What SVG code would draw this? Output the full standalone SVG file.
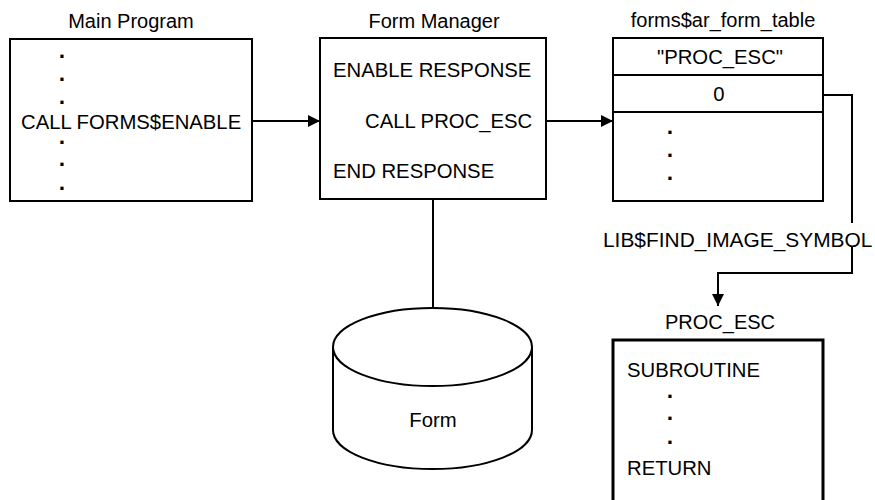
<svg xmlns="http://www.w3.org/2000/svg" width="875" height="500" viewBox="0 0 875 500">
<style>
text{font-family:"Liberation Sans",Arial,sans-serif;font-size:20.3px;fill:#000}
.t{font-size:20px}
.c{text-anchor:middle}
.d{font-size:12px;text-anchor:middle;stroke:#000;stroke-width:2}
.box{fill:#fff;stroke:#000;stroke-width:2}
.ln{fill:none;stroke:#000;stroke-width:2}
</style>
<defs>
<marker id="ah" viewBox="0 0 10 10" refX="10" refY="5" markerWidth="6" markerHeight="6" orient="auto" markerUnits="strokeWidth">
<path d="M0,0 L10,5 L0,10 z" fill="#000"/>
</marker>
</defs>
<g id="main">
<text class="c t" x="131" y="28">Main Program</text>
<rect class="box" x="10" y="39" width="242" height="162"/>
<text class="d" x="62" y="56.6">.</text>
<text class="d" x="62" y="79.6">.</text>
<text class="d" x="62" y="102.6">.</text>
<text x="21" y="129">CALL FORMS$ENABLE</text>
<text class="d" x="62" y="142.6">.</text>
<text class="d" x="62" y="164.6">.</text>
<text class="d" x="62" y="188.6">.</text>
</g>
<g id="formmanager">
<text class="c t" x="434" y="28">Form Manager</text>
<rect class="box" x="320" y="38" width="226" height="161"/>
<text x="333" y="77">ENABLE RESPONSE</text>
<text x="365" y="128">CALL PROC_ESC</text>
<text x="333" y="178">END RESPONSE</text>
</g>
<g id="table">
<text class="c t" x="723" y="27">forms$ar_form_table</text>
<rect class="box" x="613" y="38" width="210" height="163"/>
<line class="ln" x1="613" y1="75" x2="823" y2="75"/>
<line class="ln" x1="613" y1="112" x2="823" y2="112"/>
<text class="c" x="720" y="64">"PROC_ESC"</text>
<text class="c" x="719" y="101">0</text>
<text class="d" x="670" y="132.6">.</text>
<text class="d" x="670" y="155.6">.</text>
<text class="d" x="670" y="178.6">.</text>
</g>
<g id="form">
<path class="box" d="M333,347 L333,430 A99.5,39 0 0 0 532,430 L532,347 A99.5,39 0 0 0 333,347 Z"/>
<path class="ln" d="M333,347 A99.5,39 0 0 0 532,347"/>
<text class="c" x="433" y="427">Form</text>
</g>
<g id="procesc">
<text class="c t" x="720" y="329">PROC_ESC</text>
<path d="M613,505 L613,340 L823,340 L823,505" fill="#fff" stroke="#000" stroke-width="3"/>
<text x="627" y="377">SUBROUTINE</text>
<text class="d" x="670" y="396.6">.</text>
<text class="d" x="670" y="418.6">.</text>
<text class="d" x="670" y="442.6">.</text>
<text x="627" y="475">RETURN</text>
</g>
<g id="connectors">
<line class="ln" x1="252" y1="121" x2="320" y2="121" marker-end="url(#ah)"/>
<line class="ln" x1="546" y1="121" x2="613" y2="121" marker-end="url(#ah)"/>
<line class="ln" x1="433" y1="199" x2="433" y2="308"/>
<path class="ln" d="M823,95 L852,95 L852,223"/>
<path class="ln" d="M852,247 L852,273 L718,273 L718,306" marker-end="url(#ah)"/>
<text x="603" y="247" style="font-size:20.9px">LIB$FIND_IMAGE_SYMBOL</text>
</g>
</svg>
